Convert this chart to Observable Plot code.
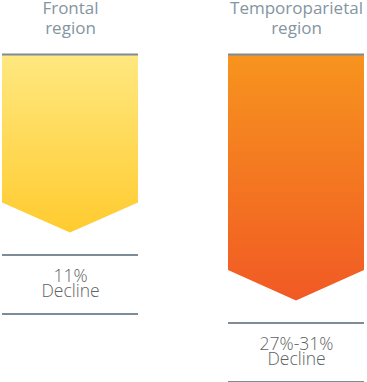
<!DOCTYPE html>
<html>
<head>
<meta charset="utf-8">
<script src="https://cdn.jsdelivr.net/npm/d3@7"></script>
<script src="https://cdn.jsdelivr.net/npm/@observablehq/plot@0.6"></script>
<style>
  html, body { margin: 0; padding: 0; background: #fff; }
  #chart svg { display: block; }
</style>
</head>
<body>
<div id="chart"></div>
<script>
// ---- data ----
const regions = ["Frontal\nregion", "Temporoparietal\nregion"];
const declineLabels = ["11%\nDecline", "27%-31%\nDecline"];
const shoulderDepth = [148.5, 216];   // depth where arrow sides start to converge
const tipDepth = [178.5, 246.5];      // depth of arrow tip
const gradientIds = ["gradFrontal", "gradTemporo"];
const gradientStops = [["#FFE880", "#FFCB2F"], ["#F7941E", "#F15A24"]];

const rows = regions.map((r, i) => ({
  region: r,
  label: declineLabels[i],
  shoulder: shoulderDepth[i],
  tip: tipDepth[i],
  declineRule: tipDepth[i] + 22,
}));

function arrowPoints(i) {
  const r = rows[i];
  return [
    {region: r.region, x: 0, y1: 1, y2: r.shoulder},
    {region: r.region, x: 0.5, y1: 1, y2: r.tip},
    {region: r.region, x: 1, y1: 1, y2: r.shoulder}
  ];
}

const ruleColor = "#7D8C97";
const titleColor = "#8495A1";
const textColor = "#5E6264";
const font = "'Open Sans', sans-serif";

const svg = Plot.plot({
  width: 367,
  height: 382,
  marginTop: 54,
  marginBottom: 0,
  marginLeft: 2,
  marginRight: 2,
  style: {background: "white", fontFamily: font, overflow: "visible"},
  fx: {domain: regions, paddingInner: 0.397, paddingOuter: 0, axis: null},
  x: {domain: [0, 1], axis: null},
  y: {domain: [0, 328], reverse: true, axis: null},
  marks: [
    ...rows.map((r, i) => Plot.areaY(arrowPoints(i), {
      fx: "region", x: "x", y1: "y1", y2: "y2",
      fill: `url(#${gradientIds[i]})`
    })),
    Plot.ruleY(rows, {fx: "region", y: () => 0, stroke: ruleColor, strokeWidth: 2}),
    Plot.ruleY(rows, {fx: "region", y: "declineRule", stroke: ruleColor, strokeWidth: 2}),
    Plot.ruleY(rows, {fx: "region", y: d => d.declineRule + 59, stroke: ruleColor, strokeWidth: 2}),
    Plot.text(rows, {
      fx: "region", y: () => 0, dy: -21, text: "region",
      lineAnchor: "bottom", lineHeight: 19.5 / 17,
      fontSize: 17, fill: titleColor, fontFamily: font, letterSpacing: 0.6
    }),
    Plot.text(rows, {
      fx: "region", y: d => d.declineRule + 42, text: "label",
      lineAnchor: "bottom", lineHeight: 15.2 / 17.5,
      fontSize: 17.5, fill: textColor, fontFamily: font, fontWeight: 300, letterSpacing: 1.2
    })
  ]
});

const defs = d3.select(svg).insert("defs", ":first-child");
gradientIds.forEach((id, i) => {
  const g = defs.append("linearGradient")
    .attr("id", id).attr("x1", 0).attr("y1", 0).attr("x2", 0).attr("y2", 1);
  g.append("stop").attr("offset", "0%").attr("stop-color", gradientStops[i][0]);
  g.append("stop").attr("offset", "100%").attr("stop-color", gradientStops[i][1]);
});

document.getElementById("chart").appendChild(svg);
</script>
</body>
</html>
